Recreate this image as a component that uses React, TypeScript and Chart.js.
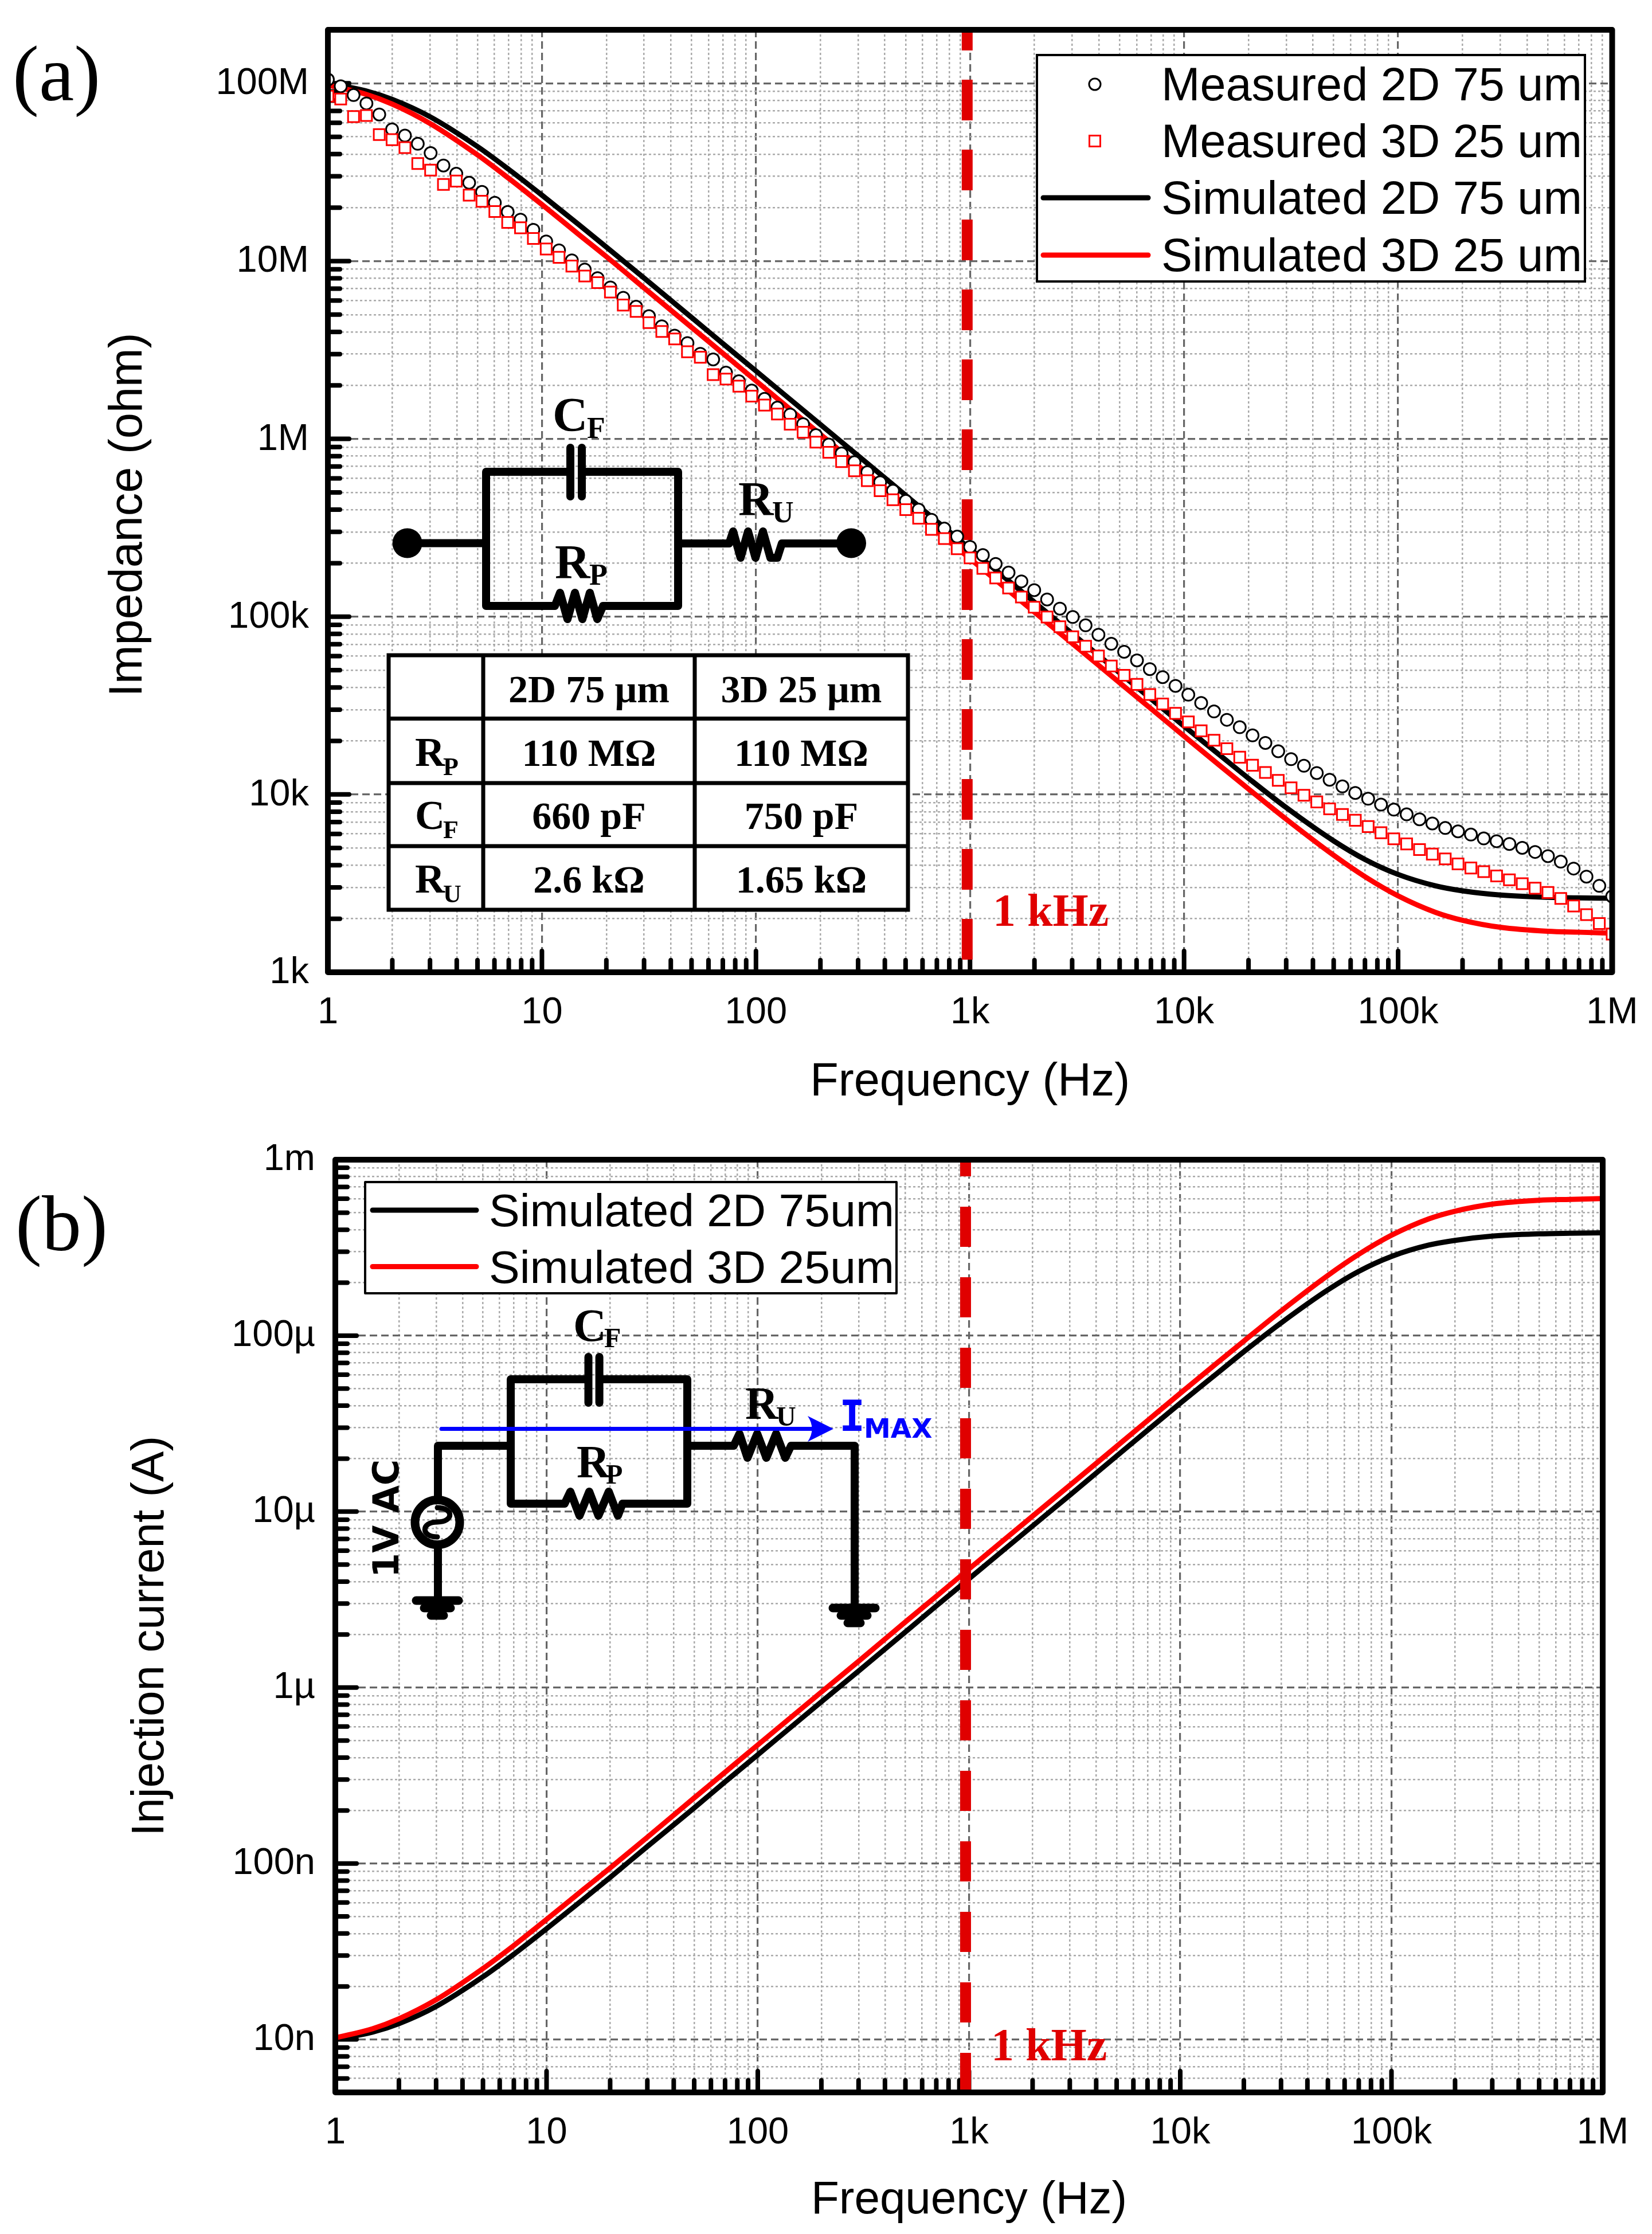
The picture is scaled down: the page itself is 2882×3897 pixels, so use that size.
import React, { useEffect, useRef } from "react";
import { Chart, registerables } from "chart.js";

Chart.register(...registerables);

const SANS = "'Liberation Sans', Arial, sans-serif";
const SERIF = "'Liberation Serif', 'Times New Roman', serif";

// ---------- axes ----------
const xDecades = [1, 10, 100, 1000, 10000, 100000, 1000000];
const xDecadeLabels = ["1", "10", "100", "1k", "10k", "100k", "1M"];
const yDecadesA = [1e3, 1e4, 1e5, 1e6, 1e7, 1e8];
const yDecadeLabelsA = ["1k", "10k", "100k", "1M", "10M", "100M"];
const yDecadesB = [1e-8, 1e-7, 1e-6, 1e-5, 1e-4, 1e-3];
const yDecadeLabelsB = ["10n", "100n", "1\u00b5", "10\u00b5", "100\u00b5", "1m"];

// ---------- simulated curves ----------
const simFreq = [1, 1.5, 2, 3, 5, 7, 10, 15, 20, 30, 50, 70, 100, 200, 300, 500, 700, 1000, 2000, 3000, 5000, 7000, 10000, 15000, 20000, 30000, 50000, 70000, 100000, 150000, 200000, 300000, 500000, 700000, 1000000];
const simZ2D = [100e6, 90.8e6, 81.2e6, 64.9e6, 44.1e6, 32.8e6, 23.5e6, 15.9e6, 12.0e6, 8.03e6, 4.82e6, 3.44e6, 2.41e6, 1.205e6, 804e3, 482e3, 344e3, 241e3, 120.6e3, 80.4e3, 48.3e3, 34.5e3, 24.2e3, 16.3e3, 12.33e3, 8.44e3, 5.48e3, 4.31e3, 3.55e3, 3.06e3, 2.87e3, 2.72e3, 2.64e3, 2.62e3, 2.61e3];
const simZ3D = [97.7e6, 86.9e6, 76.4e6, 59.5e6, 39.6e6, 29.2e6, 20.8e6, 14.0e6, 10.6e6, 7.07e6, 4.24e6, 3.03e6, 2.12e6, 1.06e6, 707e3, 424e3, 303e3, 212e3, 106e3, 70.8e3, 42.5e3, 30.4e3, 21.3e3, 14.24e3, 10.74e3, 7.26e3, 4.55e3, 3.45e3, 2.69e3, 2.17e3, 1.96e3, 1.79e3, 1.70e3, 1.68e3, 1.66e3];
const simI2D = [10.0e-9, 11.0e-9, 12.3e-9, 15.4e-9, 22.7e-9, 30.5e-9, 42.6e-9, 62.9e-9, 83.3e-9, 125e-9, 207e-9, 291e-9, 415e-9, 830e-9, 1.24e-6, 2.07e-6, 2.91e-6, 4.15e-6, 8.29e-6, 12.4e-6, 20.7e-6, 29.0e-6, 41.3e-6, 61.3e-6, 81.1e-6, 118e-6, 182e-6, 232e-6, 282e-6, 327e-6, 348e-6, 368e-6, 379e-6, 382e-6, 384e-6];
const simI3D = [10.2e-9, 11.5e-9, 13.1e-9, 16.8e-9, 25.3e-9, 34.2e-9, 48.1e-9, 71.4e-9, 94.3e-9, 141e-9, 236e-9, 330e-9, 472e-9, 943e-9, 1.41e-6, 2.36e-6, 3.30e-6, 4.72e-6, 9.43e-6, 14.1e-6, 23.5e-6, 32.9e-6, 47e-6, 70.2e-6, 93.1e-6, 138e-6, 220e-6, 290e-6, 372e-6, 461e-6, 510e-6, 559e-6, 588e-6, 595e-6, 602e-6];

// ---------- measured points ----------
const measFreq = [1, 1.148, 1.318, 1.514, 1.738, 1.995, 2.291, 2.63, 3.02, 3.467, 3.981, 4.571, 5.248, 6.026, 6.918, 7.943, 9.12, 10.47, 12.02, 13.8, 15.85, 18.2, 20.89, 23.99, 27.54, 31.62, 36.31, 41.69, 47.86, 54.95, 63.1, 72.44, 83.18, 95.5, 109.6, 125.9, 144.5, 166, 190.5, 218.8, 251.2, 288.4, 331.1, 380.2, 436.5, 501.2, 575.4, 660.7, 758.6, 871, 1000, 1148, 1318, 1514, 1738, 1995, 2291, 2630, 3020, 3467, 3981, 4571, 5248, 6026, 6918, 7943, 9120, 10470, 12020, 13800, 15850, 18200, 20890, 23990, 27540, 31620, 36310, 41690, 47860, 54950, 63100, 72440, 83180, 95500, 109600, 125900, 144500, 166000, 190500, 218800, 251200, 288400, 331100, 380200, 436500, 501200, 575400, 660700, 758600, 871000, 1000000];
const measZ2D = [105e6, 96.3e6, 85.9e6, 77.1e6, 66.8e6, 55.1e6, 50.8e6, 45.7e6, 40.5e6, 34.5e6, 31e6, 27.6e6, 24.5e6, 21.3e6, 18.9e6, 17.1e6, 15e6, 12.9e6, 11.5e6, 10.1e6, 8.97e6, 8.02e6, 7.11e6, 6.22e6, 5.54e6, 4.9e6, 4.3e6, 3.81e6, 3.46e6, 3.01e6, 2.8e6, 2.36e6, 2.11e6, 1.87e6, 1.68e6, 1.5e6, 1.37e6, 1.21e6, 1.05e6, 929e3, 828e3, 739e3, 649e3, 570e3, 511e3, 448e3, 400e3, 351e3, 313e3, 282e3, 247e3, 222e3, 198e3, 177e3, 158e3, 141e3, 125e3, 111e3, 99.6e3, 89.4e3, 79.2e3, 70.4e3, 63.5e3, 56.8e3, 50.7e3, 45.7e3, 40.8e3, 36.4e3, 32.7e3, 29.3e3, 26.3e3, 23.9e3, 21.5e3, 19.5e3, 17.5e3, 15.8e3, 14.5e3, 13.2e3, 12.1e3, 11.1e3, 10.2e3, 9.46e3, 8.77e3, 8.22e3, 7.73e3, 7.25e3, 6.87e3, 6.48e3, 6.2e3, 5.95e3, 5.66e3, 5.46e3, 5.27e3, 5.01e3, 4.75e3, 4.5e3, 4.19e3, 3.83e3, 3.45e3, 3.06e3, 2.67e3];
const measZ3D = [84.7e6, 81.6e6, 65e6, 65.9e6, 51.5e6, 48.2e6, 43.5e6, 35.4e6, 32.5e6, 27e6, 28.2e6, 23.5e6, 21.7e6, 19e6, 16.5e6, 15.4e6, 13.4e6, 11.7e6, 10.5e6, 9.38e6, 8.24e6, 7.57e6, 6.7e6, 5.66e6, 5.21e6, 4.51e6, 4.02e6, 3.65e6, 3.09e6, 2.88e6, 2.3e6, 2.17e6, 1.98e6, 1.74e6, 1.55e6, 1.38e6, 1.21e6, 1.09e6, 959e3, 841e3, 746e3, 662e3, 582e3, 511e3, 455e3, 400e3, 358e3, 310e3, 275e3, 241e3, 214e3, 187e3, 165e3, 145e3, 129e3, 113e3, 99.5e3, 87.8e3, 77.1e3, 68.2e3, 60.1e3, 52.8e3, 46.8e3, 41.6e3, 36.5e3, 32.3e3, 28.6e3, 25.6e3, 22.8e3, 20.2e3, 18.1e3, 16.2e3, 14.6e3, 13.3e3, 12e3, 10.9e3, 9.9e3, 9.08e3, 8.3e3, 7.72e3, 7.16e3, 6.6e3, 6.09e3, 5.63e3, 5.27e3, 4.9e3, 4.62e3, 4.34e3, 4.07e3, 3.86e3, 3.68e3, 3.48e3, 3.31e3, 3.15e3, 2.97e3, 2.81e3, 2.6e3, 2.36e3, 2.11e3, 1.88e3, 1.64e3];

// ---------- marker line at about 1 kHz ----------
const markerFreqA = [970, 970];
const markerFreqB = [963, 963];
const markerZ = [2e8, 1e3];
const markerI = [1e-3, 5e-9];

// ---------- text ----------
const legendA = ["Measured 2D 75 um", "Measured 3D 25 um", "Simulated 2D 75 um", "Simulated 3D 25 um"];
const legendB = ["Simulated 2D 75um", "Simulated 3D 25um"];
const tableHead = ["2D 75 \u00b5m", "3D 25 \u00b5m"];
const tableRows = [
  ["R", "P", "110 M\u03a9", "110 M\u03a9"],
  ["C", "F", "660 pF", "750 pF"],
  ["R", "U", "2.6 k\u03a9", "1.65 k\u03a9"],
];

type Ctx = CanvasRenderingContext2D;
const RED_LINE = "#e00000";

function withMinors(decades: number[], lo: number, hi: number): number[] {
  const out: number[] = [];
  for (const d of decades.concat([decades[0] / 10])) {
    for (const m of [1, 2, 3, 4, 5, 6, 7, 8, 9]) {
      const v = d * m;
      if (v >= lo * 0.999 && v <= hi * 1.001) out.push(v);
    }
  }
  return out.sort((a, b) => a - b);
}

function decadeIndex(decades: number[], value: number): number {
  return decades.findIndex((d) => Math.abs(value / d - 1) < 1e-6);
}

function text(ctx: Ctx, s: string, x: number, y: number, font: string, color = "#000", align: CanvasTextAlign = "left") {
  ctx.font = font;
  ctx.fillStyle = color;
  ctx.textAlign = align;
  ctx.textBaseline = "alphabetic";
  ctx.fillText(s, x, y);
}

function wire(ctx: Ctx, pts: number[][], width = 14) {
  ctx.beginPath();
  pts.forEach((p, i) => (i ? ctx.lineTo(p[0], p[1]) : ctx.moveTo(p[0], p[1])));
  ctx.lineWidth = width;
  ctx.lineJoin = "round";
  ctx.lineCap = "round";
  ctx.strokeStyle = "#000";
  ctx.setLineDash([]);
  ctx.stroke();
}

function subbed(ctx: Ctx, a: string, b: string, x: number, y: number, bx: number, by: number, fa: number, fb: number) {
  text(ctx, a, x, y, `bold ${fa}px ${SERIF}`);
  text(ctx, b, bx, by, `bold ${fb}px ${SERIF}`);
}

function drawCircuitA(ctx: Ctx) {
  ctx.fillStyle = "#000";
  for (const cx of [710.6, 1485]) {
    ctx.beginPath();
    ctx.arc(cx, 947.5, 26, 0, Math.PI * 2);
    ctx.fill();
  }
  wire(ctx, [[710, 947.5], [848, 947.5]]);
  wire(ctx, [[995, 823], [848, 823], [848, 1057], [960, 1057], [968, 1057], [977, 1034], [990, 1080], [1003, 1034], [1016, 1080], [1029, 1034], [1042, 1080], [1052, 1057], [1183, 1057], [1183, 823], [1015, 823]]);
  wire(ctx, [[995, 781], [995, 866]]);
  wire(ctx, [[1015, 781], [1015, 866]]);
  wire(ctx, [[1183, 948], [1272, 948], [1279, 927], [1292, 973], [1305, 927], [1318, 973], [1331, 927], [1344, 973], [1356, 973], [1364, 948], [1485, 948]]);
  subbed(ctx, "C", "F", 964, 752, 1024, 764, 85, 52);
  subbed(ctx, "R", "P", 968, 1009, 1028, 1020, 85, 52);
  subbed(ctx, "R", "U", 1288, 899, 1347, 911, 85, 52);
}

function drawTableA(ctx: Ctx) {
  const xs = [678, 843, 1212, 1584];
  const ys = [1143, 1253.5, 1366, 1476, 1587];
  ctx.fillStyle = "#fff";
  ctx.fillRect(xs[0], ys[0], xs[3] - xs[0], ys[4] - ys[0]);
  ctx.strokeStyle = "#000";
  ctx.lineWidth = 7;
  ctx.setLineDash([]);
  ctx.lineJoin = "miter";
  ctx.lineCap = "butt";
  ctx.beginPath();
  xs.forEach((x) => { ctx.moveTo(x, ys[0]); ctx.lineTo(x, ys[4]); });
  ys.forEach((y) => { ctx.moveTo(xs[0] - 3.5, y); ctx.lineTo(xs[3] + 3.5, y); });
  ctx.stroke();
  const bold = `bold 68px ${SERIF}`;
  text(ctx, tableHead[0], 1027.5, 1225, bold, "#000", "center");
  text(ctx, tableHead[1], 1398, 1225, bold, "#000", "center");
  const base = [1336, 1446, 1557];
  const subBase = [1352, 1462, 1574];
  tableRows.forEach((r, i) => {
    subbed(ctx, r[0], r[1], 724, base[i], 773, subBase[i], 72, 44);
    text(ctx, r[2], 1027.5, base[i], bold, "#000", "center");
    text(ctx, r[3], 1398, base[i], bold, "#000", "center");
  });
}

function ground(ctx: Ctx, x: number, y: number) {
  wire(ctx, [[x - 37, y], [x + 37, y]], 15);
  wire(ctx, [[x - 23, y + 13], [x + 23, y + 13]], 15);
  wire(ctx, [[x - 11, y + 26], [x + 11, y + 26]], 15);
}

function drawCircuitB(ctx: Ctx) {
  wire(ctx, [[1026, 2406], [891, 2406], [891, 2623], [985, 2623], [995, 2602], [1011, 2644], [1028, 2602], [1044, 2644], [1062, 2602], [1078, 2644], [1086, 2623], [1199, 2623], [1199, 2406], [1046, 2406]]);
  wire(ctx, [[1026.5, 2367], [1026.5, 2447]]);
  wire(ctx, [[1045.6, 2367], [1045.6, 2447]]);
  wire(ctx, [[891, 2522], [764, 2522], [764, 2610]]);
  wire(ctx, [[764, 2702], [764, 2792]]);
  ground(ctx, 763, 2792);
  wire(ctx, [[1199, 2522], [1280, 2522], [1290, 2501], [1304, 2543], [1321, 2501], [1337, 2543], [1354, 2501], [1370, 2543], [1380, 2522], [1491, 2522], [1491, 2805]]);
  ground(ctx, 1490, 2805);
  ctx.beginPath();
  ctx.arc(763, 2655.6, 39, 0, Math.PI * 2);
  ctx.lineWidth = 15;
  ctx.strokeStyle = "#000";
  ctx.stroke();
  ctx.beginPath();
  ctx.moveTo(763, 2630);
  ctx.bezierCurveTo(792, 2630, 792, 2655, 763, 2655);
  ctx.bezierCurveTo(734, 2655, 734, 2681, 763, 2681);
  ctx.lineWidth = 9;
  ctx.stroke();
  // current arrow
  ctx.strokeStyle = "#0000ff";
  ctx.fillStyle = "#0000ff";
  ctx.lineWidth = 7;
  ctx.lineCap = "round";
  ctx.beginPath();
  ctx.moveTo(770, 2492.5);
  ctx.lineTo(1430, 2492.5);
  ctx.stroke();
  ctx.beginPath();
  ctx.moveTo(1454, 2492.5);
  ctx.lineTo(1409, 2470);
  ctx.quadraticCurveTo(1424, 2492.5, 1409, 2515);
  ctx.closePath();
  ctx.fill();
  text(ctx, "I", 1464, 2496, `bold 75px 'DejaVu Sans Mono', monospace`, "#0000ff");
  text(ctx, "MAX", 1507, 2508, `bold 47px 'DejaVu Sans', sans-serif`, "#0000ff");
  ctx.save();
  ctx.translate(695, 2752);
  ctx.rotate(-Math.PI / 2);
  text(ctx, "1V AC", 0, 0, `bold 62px 'DejaVu Sans', sans-serif`);
  ctx.restore();
  subbed(ctx, "C", "F", 1000, 2339, 1054, 2350, 80, 48);
  subbed(ctx, "R", "P", 1006, 2577, 1057, 2588, 80, 48);
  subbed(ctx, "R", "U", 1300, 2475, 1354, 2487, 80, 48);
}

function drawLegendA(ctx: Ctx) {
  ctx.fillStyle = "#fff";
  ctx.fillRect(1809, 96, 956, 395);
  ctx.strokeStyle = "#000";
  ctx.lineWidth = 4;
  ctx.setLineDash([]);
  ctx.strokeRect(1809, 96, 956, 395);
  const rows = [147, 246, 345, 445];
  rows.forEach((y, i) => text(ctx, legendA[i], 2026, y + 28, `81px ${SANS}`));
  ctx.lineWidth = 3;
  ctx.strokeStyle = "#000";
  ctx.beginPath();
  ctx.arc(1910, rows[0], 10, 0, Math.PI * 2);
  ctx.stroke();
  ctx.strokeStyle = "#ff0000";
  ctx.strokeRect(1900.5, rows[1] - 9.5, 19, 19);
  ctx.lineCap = "round";
  ctx.lineWidth = 9;
  ctx.beginPath();
  ctx.moveTo(1820, rows[3]);
  ctx.lineTo(2003, rows[3]);
  ctx.stroke();
  ctx.strokeStyle = "#000";
  ctx.beginPath();
  ctx.moveTo(1820, rows[2]);
  ctx.lineTo(2003, rows[2]);
  ctx.stroke();
}

function drawLegendB(ctx: Ctx) {
  ctx.fillStyle = "#fff";
  ctx.fillRect(637, 2062, 927, 194);
  ctx.strokeStyle = "#000";
  ctx.lineWidth = 4;
  ctx.setLineDash([]);
  ctx.strokeRect(637, 2062, 927, 194);
  const rows = [2111, 2209.5];
  rows.forEach((y, i) => {
    text(ctx, legendB[i], 853, y + 28, `80.5px ${SANS}`);
    ctx.strokeStyle = i ? "#ff0000" : "#000";
    ctx.lineWidth = 9;
    ctx.lineCap = "round";
    ctx.beginPath();
    ctx.moveTo(650, y);
    ctx.lineTo(831, y);
    ctx.stroke();
  });
}

function drawYTitle(ctx: Ctx, s: string, x: number, y: number, size: number) {
  ctx.save();
  ctx.translate(x, y);
  ctx.rotate(-Math.PI / 2);
  text(ctx, s, 0, 0, `${size}px ${SANS}`, "#000", "center");
  ctx.restore();
}

type PanelSpec = {
  top: number;
  height: number;
  area: { left: number; right: number; top: number; bottom: number };
  yMin: number;
  yMax: number;
  yDecades: number[];
  yLabels: string[];
  tickOffset: number;
  yTickPadding: number;
  titleBottom: number;
  titleSize: number;
  datasets: any[];
  overlay: (ctx: Ctx) => void;
};

const specA: PanelSpec = {
  top: 0,
  height: 1960,
  area: { left: 572, right: 2812.5, top: 52, bottom: 1696 },
  yMin: 1e3,
  yMax: 2e8,
  yDecades: yDecadesA,
  yLabels: yDecadeLabelsA,
  tickOffset: 1,
  yTickPadding: 33,
  titleBottom: 31,
  titleSize: 81,
  datasets: [
    { label: legendA[1], order: 0, data: measFreq.map((x, i) => ({ x, y: measZ3D[i] })), showLine: false, pointStyle: "rect", pointRadius: 13.5, pointBorderWidth: 3, pointBorderColor: "#ff0000", pointBackgroundColor: "#fff", clip: 0 },
    { label: legendA[0], order: 1, data: measFreq.map((x, i) => ({ x, y: measZ2D[i] })), showLine: false, pointStyle: "circle", pointRadius: 10.5, pointBorderWidth: 3, pointBorderColor: "#000", pointBackgroundColor: "#fff", clip: 0 },
    { label: "1 kHz", order: 2, data: markerFreqA.map((x, i) => ({ x, y: markerZ[i] })), borderColor: RED_LINE, borderWidth: 19, borderDash: [71, 51], borderDashOffset: 35, pointRadius: 0, borderCapStyle: "butt" },
    { label: legendA[3], order: 3, data: simFreq.map((x, i) => ({ x, y: simZ3D[i] })), borderColor: "#ff0000", borderWidth: 9, pointRadius: 0, cubicInterpolationMode: "monotone", clip: 0 },
    { label: legendA[2], order: 4, data: simFreq.map((x, i) => ({ x, y: simZ2D[i] })), borderColor: "#000", borderWidth: 9, pointRadius: 0, cubicInterpolationMode: "monotone", clip: 0 },
  ],
  overlay: (ctx) => {
    text(ctx, "(a)", 22, 175, `138px ${SERIF}`);
    drawYTitle(ctx, "Impedance (ohm)", 247, 898, 81);
    drawCircuitA(ctx);
    drawTableA(ctx);
    drawLegendA(ctx);
    text(ctx, "1 kHz", 1732, 1615, `bold 80px ${SERIF}`, RED_LINE);
  },
};

const specB: PanelSpec = {
  top: 1960,
  height: 1937,
  area: { left: 585, right: 2796, top: 2023, bottom: 3650 },
  yMin: 5e-9,
  yMax: 1e-3,
  yDecades: yDecadesB,
  yLabels: yDecadeLabelsB,
  tickOffset: 0,
  yTickPadding: 35,
  titleBottom: 18,
  titleSize: 80,
  datasets: [
    { label: "1 kHz", order: 0, data: markerFreqB.map((x, i) => ({ x, y: markerI[i] })), borderColor: RED_LINE, borderWidth: 19, borderDash: [70, 53], borderDashOffset: 41, pointRadius: 0, borderCapStyle: "butt" },
    { label: legendB[1], order: 1, data: simFreq.map((x, i) => ({ x, y: simI3D[i] })), borderColor: "#ff0000", borderWidth: 9, pointRadius: 0, cubicInterpolationMode: "monotone", clip: 0 },
    { label: legendB[0], order: 2, data: simFreq.map((x, i) => ({ x, y: simI2D[i] })), borderColor: "#000", borderWidth: 9, pointRadius: 0, cubicInterpolationMode: "monotone", clip: 0 },
  ],
  overlay: (ctx) => {
    text(ctx, "(b)", 27, 2181, `138px ${SERIF}`);
    drawYTitle(ctx, "Injection current (A)", 285, 2854, 80);
    drawCircuitB(ctx);
    drawLegendB(ctx);
    text(ctx, "1 kHz", 1729, 3594, `bold 80px ${SERIF}`, RED_LINE);
  },
};

function clearPadding(s: any) {
  s.paddingLeft = 0;
  s.paddingRight = 0;
  s.paddingTop = 0;
  s.paddingBottom = 0;
}

function buildChart(canvas: HTMLCanvasElement, spec: PanelSpec) {
  const { area } = spec;
  const topLocal = area.top - spec.top;
  const bottomLocal = area.bottom - spec.top;
  const xTicks = withMinors(xDecades, 1, 1e6);
  const yTicks = withMinors(spec.yDecades, spec.yMin, spec.yMax);
  const tickList = (vals: number[]) => (s: any) => {
    s.ticks = vals.map((value) => ({ value }));
  };
  const gridFor = (decades: number[]) => ({
    color: (c: any) => (decadeIndex(decades, c.tick.value) >= 0 ? "#666666" : "#aaaaaa"),
    lineWidth: (c: any) => (decadeIndex(decades, c.tick.value) >= 0 ? 3.2 : 2.5),
    drawTicks: false,
  });
  const borderFor = (decades: number[]) => ({
    display: false,
    dash: (c: any) => (c.tick && decadeIndex(decades, c.tick.value) >= 0 ? [13, 7] : [4, 4]),
  });

  const plugin = {
    id: "panelDecor",
    beforeDatasetsDraw(chart: any) {
      const ctx: Ctx = chart.ctx;
      const { left, bottom } = chart.chartArea;
      ctx.save();
      ctx.strokeStyle = "#000";
      ctx.lineCap = "round";
      ctx.setLineDash([]);
      ctx.lineWidth = 8;
      ctx.beginPath();
      for (const v of xTicks) {
        const x = chart.scales.x.getPixelForValue(v);
        const len = decadeIndex(xDecades, v) >= 0 ? 37 : 21;
        ctx.moveTo(x, bottom);
        ctx.lineTo(x, bottom - len);
      }
      for (const v of yTicks) {
        const y = chart.scales.y.getPixelForValue(v);
        const len = decadeIndex(spec.yDecades, v) >= 0 ? 37 : 21;
        ctx.moveTo(left, y);
        ctx.lineTo(left + len, y);
      }
      ctx.stroke();
      ctx.restore();
    },
    afterDatasetsDraw(chart: any) {
      const ctx: Ctx = chart.ctx;
      const { left, right, top, bottom } = chart.chartArea;
      ctx.save();
      ctx.strokeStyle = "#000";
      ctx.lineWidth = 10;
      ctx.lineJoin = "round";
      ctx.setLineDash([]);
      ctx.strokeRect(left, top, right - left, bottom - top);
      ctx.translate(0, -spec.top);
      spec.overlay(ctx);
      ctx.restore();
    },
  };

  return new Chart(canvas, {
    type: "line",
    data: { datasets: spec.datasets },
    options: {
      animation: false,
      responsive: false,
      devicePixelRatio: 1,
      layout: { padding: { left: 0, top: topLocal, right: 2882 - area.right, bottom: 0 } },
      plugins: { legend: { display: false }, tooltip: { enabled: false }, title: { display: false } },
      scales: {
        x: {
          type: "logarithmic",
          min: 1,
          max: 1e6,
          grid: gridFor(xDecades),
          border: borderFor(xDecades),
          afterBuildTicks: tickList(xTicks),
          afterFit: (s: any) => {
            s.height = spec.height - bottomLocal;
            clearPadding(s);
          },
          ticks: {
            autoSkip: false,
            maxRotation: 0,
            minRotation: 0,
            padding: 32,
            color: "#000",
            font: { family: SANS, size: 65 },
            callback: (v: any) => {
              const i = decadeIndex(xDecades, Number(v));
              return i >= 0 ? xDecadeLabels[i] : "";
            },
          },
          title: {
            display: true,
            text: "Frequency (Hz)",
            color: "#000",
            font: { family: SANS, size: spec.titleSize, lineHeight: 1 },
            padding: { top: 0, bottom: spec.titleBottom },
          },
        },
        y: {
          type: "logarithmic",
          min: spec.yMin,
          max: spec.yMax,
          grid: gridFor(spec.yDecades),
          border: borderFor(spec.yDecades),
          afterBuildTicks: tickList(yTicks),
          afterFit: (s: any) => {
            s.width = area.left;
            clearPadding(s);
          },
          ticks: {
            autoSkip: false,
            maxRotation: 0,
            minRotation: 0,
            padding: spec.yTickPadding,
            labelOffset: spec.tickOffset,
            color: "#000",
            font: { family: SANS, size: 65 },
            callback: (v: any) => {
              const i = decadeIndex(spec.yDecades, Number(v));
              return i >= 0 ? spec.yLabels[i] : "";
            },
          },
        },
      },
    } as any,
    plugins: [plugin],
  });
}

function Panel({ spec }: { spec: PanelSpec }) {
  const ref = useRef<HTMLCanvasElement | null>(null);
  useEffect(() => {
    const chart = buildChart(ref.current as HTMLCanvasElement, spec);
    return () => chart.destroy();
  }, [spec]);
  return (
    <canvas
      ref={ref}
      width={2882}
      height={spec.height}
      style={{ position: "absolute", left: 0, top: spec.top, width: 2882, height: spec.height, display: "block" }}
    />
  );
}

export default function App() {
  return (
    <div style={{ position: "absolute", left: 0, top: 0, width: 2882, height: 3897, background: "#fff", overflow: "hidden" }}>
      <Panel spec={specA} />
      <Panel spec={specB} />
    </div>
  );
}
